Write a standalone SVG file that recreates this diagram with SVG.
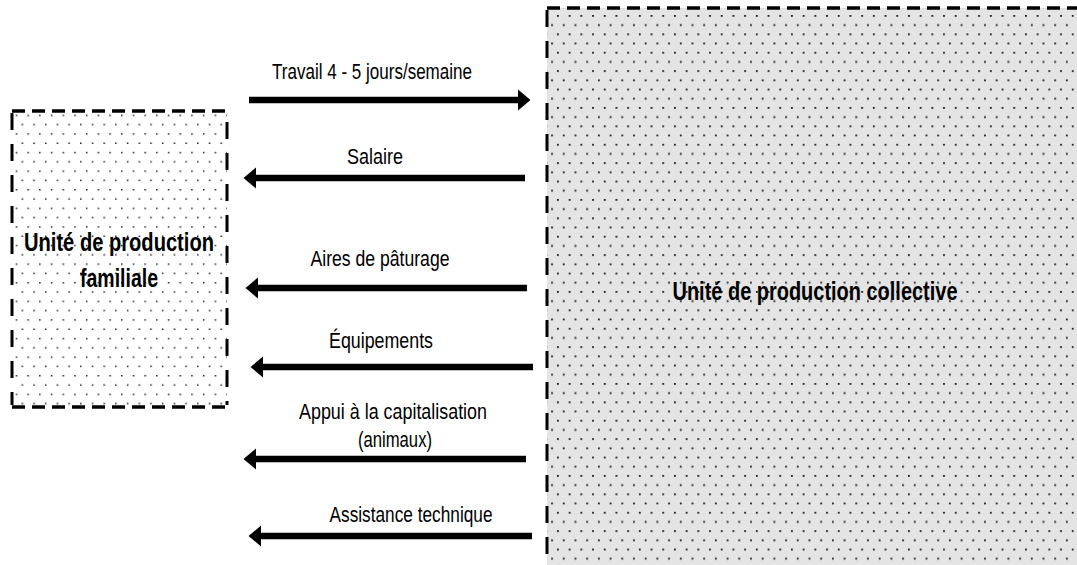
<svg xmlns="http://www.w3.org/2000/svg" width="1077" height="565" viewBox="0 0 1077 565">
  <style>
    .lbl { font-family: "Liberation Sans", Arial, sans-serif; font-size: 21.5px; fill: #000; text-anchor: middle; }
    .node { font-family: "Liberation Sans", Arial, sans-serif; font-size: 25px; font-weight: bold; fill: #000; text-anchor: middle; }
    .h { stroke: #000; stroke-width: 3.5; stroke-dasharray: 13 7; fill: none; }
    .v { stroke: #000; stroke-width: 3; stroke-dasharray: 17 14; fill: none; }
    .arr { stroke: #000; stroke-width: 6.5; fill: none; marker-end: url(#head); }
  </style>
  <defs>
    <pattern id="dotsW" patternUnits="userSpaceOnUse" width="11.7" height="18.6" x="4" y="3">
      <rect x="0" y="0" width="1.5" height="1.5" fill="#222"/>
      <rect x="5.85" y="9.3" width="1.5" height="1.5" fill="#222"/>
    </pattern>
    <pattern id="dotsG" patternUnits="userSpaceOnUse" width="11.7" height="18.4" x="557" y="15">
      <rect x="0" y="0" width="11.7" height="18.4" fill="#e4e4e4"/>
      <rect x="0" y="0" width="1.8" height="1.8" fill="#1a1a1a"/>
      <rect x="5.85" y="9.2" width="1.8" height="1.8" fill="#1a1a1a"/>
    </pattern>
    <marker id="head" markerUnits="userSpaceOnUse" markerWidth="13" markerHeight="22" viewBox="0 -11 13 22" refX="0" refY="0" orient="auto">
      <path d="M0,-10.5 L12.5,0 L0,10.5 Z" fill="#000"/>
    </marker>
  </defs>

  <g id="node-familiale">
    <rect x="12" y="111" width="215" height="296" fill="url(#dotsW)"/>
    <line class="h" x1="12" y1="111" x2="227" y2="111"/>
    <line class="h" x1="12" y1="407" x2="227" y2="407"/>
    <line class="v" x1="12" y1="113" x2="12" y2="405"/>
    <line class="v" x1="227" y1="122" x2="227" y2="405"/>
    <text class="node" x="119" y="251" textLength="190" lengthAdjust="spacingAndGlyphs">Unité de production</text>
    <text class="node" x="119" y="287" textLength="78" lengthAdjust="spacingAndGlyphs">familiale</text>
  </g>

  <g id="node-collective">
    <rect x="547" y="8" width="540" height="570" fill="url(#dotsG)"/>
    <line class="h" x1="547" y1="8" x2="1090" y2="8"/>
    <line class="v" x1="547" y1="10" x2="547" y2="570"/>
    <text class="node" x="815" y="300" textLength="285" lengthAdjust="spacingAndGlyphs">Unité de production collective</text>
  </g>

  <g id="connectors">
    <line class="arr" x1="249" y1="100" x2="518" y2="100"/>
    <line class="arr" x1="525" y1="178" x2="256" y2="178"/>
    <line class="arr" x1="527" y1="288" x2="258" y2="288"/>
    <line class="arr" x1="533" y1="367" x2="263" y2="367"/>
    <line class="arr" x1="526" y1="459" x2="256" y2="459"/>
    <line class="arr" x1="532" y1="536" x2="261" y2="536"/>
  </g>

  <g id="labels">
    <text class="lbl" x="372" y="79" textLength="200" lengthAdjust="spacingAndGlyphs">Travail 4 - 5 jours/semaine</text>
    <text class="lbl" x="375" y="164" textLength="56" lengthAdjust="spacingAndGlyphs">Salaire</text>
    <text class="lbl" x="380" y="266" textLength="139" lengthAdjust="spacingAndGlyphs">Aires de pâturage</text>
    <text class="lbl" x="381" y="348" textLength="104" lengthAdjust="spacingAndGlyphs">Équipements</text>
    <text class="lbl" x="393" y="419" textLength="188" lengthAdjust="spacingAndGlyphs">Appui à la capitalisation</text>
    <text class="lbl" x="395" y="447" textLength="74" lengthAdjust="spacingAndGlyphs">(animaux)</text>
    <text class="lbl" x="411" y="522" textLength="163" lengthAdjust="spacingAndGlyphs">Assistance technique</text>
  </g>
</svg>
